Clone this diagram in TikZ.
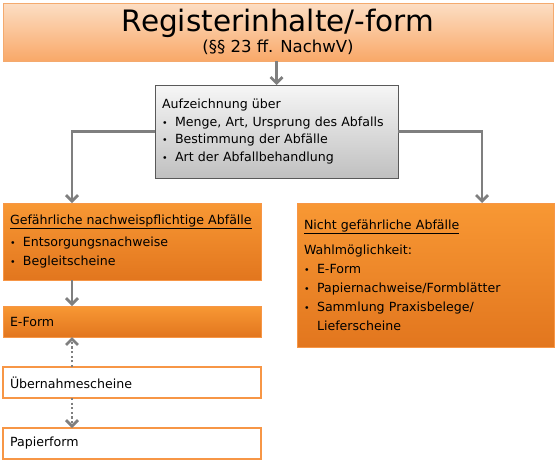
\documentclass[tikz,border=0pt]{standalone}
\usepackage{fontspec}
\setmainfont{DejaVu Sans}
\usetikzlibrary{positioning, arrows.meta, shadows, calc}

\definecolor{arrowgray}{RGB}{127,127,127}
\definecolor{peachtop}{RGB}{252,222,196}
\definecolor{peachbot}{RGB}{249,168,104}
\definecolor{peachline}{RGB}{244,170,110}
\definecolor{orangetop}{RGB}{248,152,52}
\definecolor{orangebot}{RGB}{226,118,30}
\definecolor{orangeline}{RGB}{247,150,70}
\definecolor{graytop}{RGB}{246,246,246}
\definecolor{graybot}{RGB}{192,192,192}

\newcommand{\bpt}[1]{\makebox[13pt][l]{\scalebox{0.75}{\textbullet}}#1}

\begin{document}
\begin{tikzpicture}[x=1pt, y=-1pt,
  every node/.style={inner sep=0pt, outer sep=0pt},
  sbox/.style={anchor=north west, inner xsep=7pt, align=left,
    drop shadow={opacity=0.3, shadow xshift=1.2pt, shadow yshift=-1.2pt}},
  titlebox/.style={sbox, align=center, draw=peachline, line width=0.8pt,
    top color=peachtop, bottom color=peachbot},
  infobox/.style={sbox, draw=black!65, line width=0.8pt,
    top color=graytop, bottom color=graybot, font=\fontsize{12.6}{17.7}\selectfont},
  orangebox/.style={sbox, draw=orangeline, line width=0.8pt,
    top color=orangetop, bottom color=orangebot, font=\fontsize{12.6}{19.2}\selectfont},
  plainbox/.style={anchor=north west, inner xsep=7pt, align=left, draw=orangeline,
    line width=1.5pt, fill=white, font=\fontsize{12.6}{14}\selectfont},
  arr/.style={draw=arrowgray, line width=2.8pt, -{Straight Barb[length=6pt, width=12pt]}},
  dotarr/.style={arr, dash pattern=on 2.2pt off 2.4pt}]

  \useasboundingbox (0,0) rectangle (558,463);

  \node[titlebox, minimum width=550pt, minimum height=58pt] (title) at (3,3)
    {{\fontsize{29.5}{30}\selectfont Registerinhalte/-form}\\[2pt]
     {\fontsize{16.5}{19}\selectfont (§§ 23 ff. NachwV)}};

  \node[infobox, text width=229pt, minimum height=93pt] (info) at (155,85)
    {Aufzeichnung über\\
     \bpt{Menge, Art, Ursprung des Abfalls}\\
     \bpt{Bestimmung der Abfälle}\\
     \bpt{Art der Abfallbehandlung}};

  \node[orangebox, text width=244pt, minimum height=77pt] (haz) at (3,203)
    {\underline{Gefährliche nachweispflichtige Abfälle}\\[3pt]
     \bpt{Entsorgungsnachweise}\\
     \bpt{Begleitscheine}};

  \node[orangebox, text width=243pt, minimum height=144pt] (nonhaz) at (297,203)
    {\underline{Nicht gefährliche Abfälle}\\[6pt]
     Wahlmöglichkeit:\\
     \bpt{E-Form}\\
     \bpt{Papiernachweise/Formblätter}\\
     \bpt{Sammlung Praxisbelege/}\\[-1pt]
     \hspace*{13pt}Lieferscheine};

  \node[orangebox, text width=244pt, minimum height=31pt] (eform) at (3,306) {E-Form};
  \node[plainbox, text width=244pt, minimum height=31pt] (ueber) at (3,367) {Übernahmescheine};
  \node[plainbox, text width=244pt, minimum height=31pt] (papier) at (3,428) {Papierform};

  % Verbindungen
  \draw[arr] (title.south -| info.north) -- (info.north);
  \draw[arr] (info.west) -| ([xshift=69pt]haz.north west);
  \draw[arr] (info.east) -| ([xshift=185pt]nonhaz.north west);
  \draw[arr] ([xshift=69pt]haz.south west) -- ([xshift=69pt]eform.north west);
  \draw[dotarr] ([xshift=69pt]ueber.north west) -- ([xshift=69pt]eform.south west);
  \draw[dotarr] ([xshift=69pt]ueber.south west) -- ([xshift=69pt]papier.north west);
\end{tikzpicture}
\end{document}
